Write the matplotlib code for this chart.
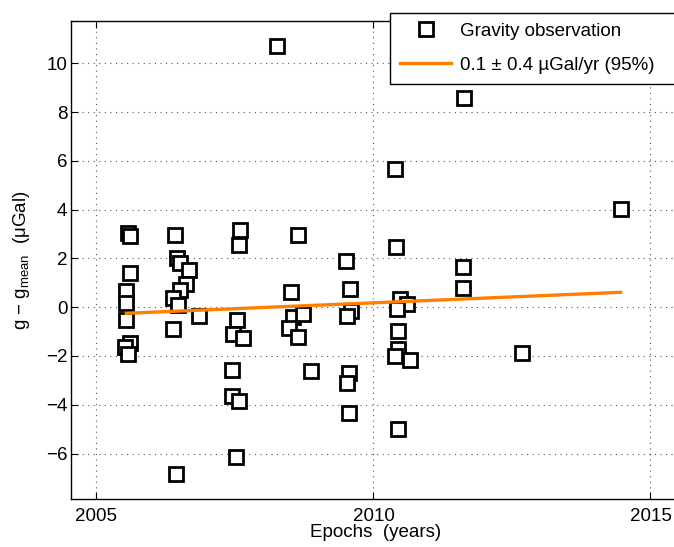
import numpy as np
import matplotlib
matplotlib.use('Agg')
import matplotlib.pyplot as plt

plt.rcParams['font.family'] = ['Liberation Sans', 'DejaVu Sans']
plt.rcParams['mathtext.fontset'] = 'custom'
plt.rcParams['mathtext.rm'] = 'Liberation Sans'
plt.rcParams['mathtext.it'] = 'Liberation Sans'

# gravity observations (epoch in years, g - g_mean in uGal)
epochs = [2005.57, 2005.61, 2005.60, 2005.54, 2005.54, 2005.54, 2005.60, 2005.52, 2005.57,
          2006.42, 2006.46, 2006.50, 2006.67, 2006.61, 2006.50, 2006.38, 2006.47, 2006.38,
          2006.85, 2006.43,
          2007.59, 2007.57, 2007.53, 2007.47, 2007.64, 2007.45, 2007.45, 2007.57, 2007.51,
          2008.25, 2008.63, 2008.52, 2008.55, 2008.72, 2008.48, 2008.64, 2008.87,
          2009.51, 2009.57, 2009.60, 2009.52, 2009.55, 2009.53, 2009.55,
          2010.38, 2010.41, 2010.48, 2010.60, 2010.42, 2010.44, 2010.45, 2010.38, 2010.66,
          2010.45,
          2011.63, 2011.61, 2011.61, 2012.68, 2014.46]
dg = [3.03, 2.93, 1.42, 0.67, 0.19, -0.52, -1.48, -1.64, -1.93,
      2.96, 2.00, 1.80, 1.53, 0.95, 0.71, 0.37, 0.09, -0.90,
      -0.36, -6.84,
      3.17, 2.55, -0.52, -1.11, -1.27, -2.57, -3.63, -3.83, -6.15,
      10.72, 2.96, 0.61, -0.41, -0.27, -0.84, -1.23, -2.60,
      1.91, 0.75, -0.14, -0.38, -2.68, -3.09, -4.32,
      5.67, 2.48, 0.33, 0.12, -0.07, -0.96, -1.72, -2.02, -2.16,
      -4.99,
      8.57, 1.64, 0.80, -1.89, 4.02]

# fitted trend
trend_x = [2005.54, 2014.46]
trend_y = [-0.25, 0.61]

fig = plt.figure(figsize=(6.74, 5.47), dpi=100)
ax = fig.add_axes([0.1053, 0.0878, 0.905, 0.8738])

ax.plot(epochs, dg, 's', mfc='white', mec='black', mew=2.0, ms=10.5,
        label='Gravity observation', zorder=3)
ax.plot(trend_x, trend_y, '-', color='#ff8000', lw=2.4,
        label='0.1 ± 0.4 µGal/yr (95%)', zorder=4)

ax.set_xlim(2004.54, 2015.55)
ax.set_ylim(-7.86, 11.73)
ax.set_xticks([2005, 2010, 2015])
ax.set_yticks([-6, -4, -2, 0, 2, 4, 6, 8, 10])
ax.tick_params(direction='in', top=True, right=True, labelsize=13.5, length=5)
ax.tick_params(axis='x', pad=6.5)
ax.tick_params(axis='y', pad=2.5)
ax.grid(True, linestyle=(0, (1, 4)), color='#555555', lw=0.8)
for s in ax.spines.values():
    s.set_linewidth(1.0)

ax.set_xlabel('Epochs  (years)', fontsize=13.5, labelpad=-1)
ax.set_ylabel(r'g $-$ g$_{\mathrm{mean}}$  ($\mathrm{\mu}$Gal)', fontsize=13.5, labelpad=10)

# legend box runs off the right edge, as in the original
leg = ax.legend(loc='upper left', bbox_to_anchor=(0.5786, 0.977, 0.45, 0.0),
                mode='expand', bbox_transform=fig.transFigure, borderaxespad=0,
                fontsize=13.5, fancybox=False, edgecolor='black', framealpha=1,
                borderpad=0.55, labelspacing=0.9, handlelength=2.7,
                handletextpad=0.5)
leg.get_frame().set_linewidth(1.0)

fig.savefig('out.png', dpi=100)
